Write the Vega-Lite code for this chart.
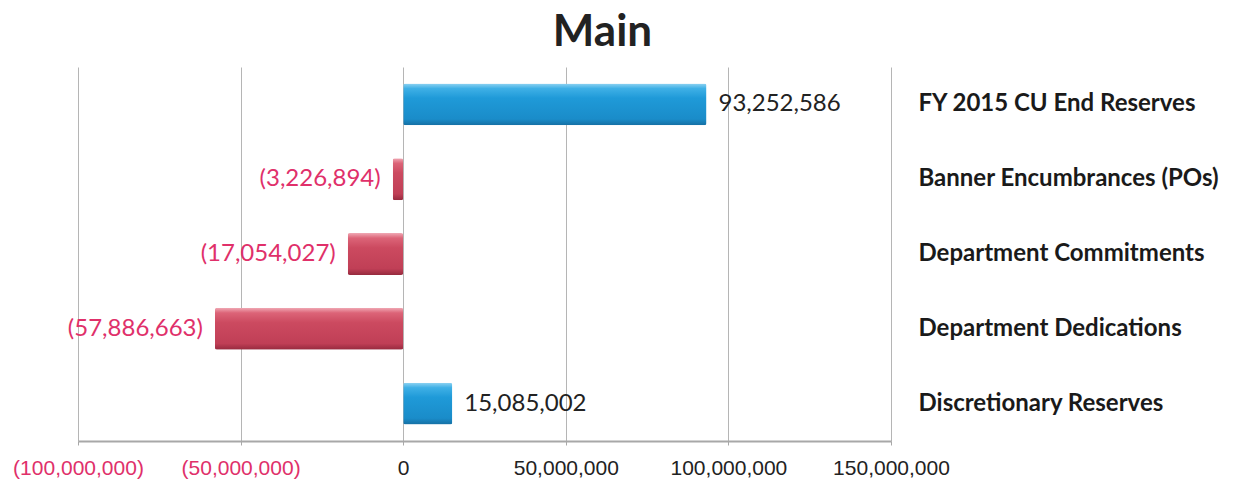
{
  "$schema": "https://vega.github.io/schema/vega-lite/v6.json",
  "autosize": "none",
  "width": 813,
  "height": 374,
  "padding": {"left": 78, "top": 67, "right": 352, "bottom": 38},
  "background": "white",
  "config": {"view": {"stroke": null}},
  "title": {
    "text": "Main",
    "font": "Lato",
    "fontSize": 44,
    "fontWeight": "bold",
    "color": "#222222",
    "anchor": "middle",
    "dx": 118,
    "offset": 12
  },
  "data": {
    "values": [
      {"category": "FY 2015 CU End Reserves", "value": 93252586},
      {"category": "Banner Encumbrances (POs)", "value": -3226894},
      {"category": "Department Commitments", "value": -17054027},
      {"category": "Department Dedications", "value": -57886663},
      {"category": "Discretionary Reserves", "value": 15085002}
    ]
  },
  "encoding": {
    "y": {
      "field": "category",
      "type": "nominal",
      "sort": null,
      "scale": {
        "domain": ["FY 2015 CU End Reserves", "Banner Encumbrances (POs)", "Department Commitments", "Department Dedications", "Discretionary Reserves"],
        "paddingInner": 0.44,
        "paddingOuter": 0.22
      },
      "axis": {
        "orient": "right",
        "title": null,
        "domain": false,
        "ticks": false,
        "grid": false,
        "labelPadding": 27,
        "labelAlign": "left",
        "labelFont": "Lato",
        "labelFontWeight": "bold",
        "labelFontSize": 24,
        "labelColor": "#1a1a1a",
        "labelLimit": 400
      }
    },
    "x": {
      "field": "value",
      "type": "quantitative",
      "scale": {"domain": [-100000000, 150000000], "nice": false, "zero": false},
      "axis": {
        "title": null,
        "values": [-100000000, -50000000, 0, 50000000, 100000000, 150000000],
        "labelExpr": "datum.value < 0 ? '(' + format(-datum.value, ',') + ')' : format(datum.value, ',')",
        "labelColor": {"condition": {"test": "datum.value < 0", "value": "#e0306a"}, "value": "#222222"},
        "labelFont": "Liberation Sans",
        "labelFontSize": 21,
        "labelPadding": 12,
        "labelFlush": false,
        "labelOverlap": false,
        "grid": true,
        "gridColor": "#b5b5b5",
        "gridWidth": 1,
        "domainColor": "#a8a8a8",
        "domainWidth": 2,
        "ticks": true,
        "tickColor": "#a8a8a8",
        "tickSize": 4
      }
    }
  },
  "layer": [
    {
      "transform": [{"filter": "datum.value >= 0"}],
      "mark": {
        "type": "bar",
        "cornerRadius": 2,
        "color": {
          "gradient": "linear", "x1": 0, "y1": 0, "x2": 0, "y2": 1,
          "stops": [
            {"offset": 0, "color": "#8fd3f2"},
            {"offset": 0.12, "color": "#3fb0e6"},
            {"offset": 0.35, "color": "#1f9ad8"},
            {"offset": 0.85, "color": "#1a8cc9"},
            {"offset": 1, "color": "#156fa3"}
          ]
        }
      }
    },
    {
      "transform": [{"filter": "datum.value < 0"}],
      "mark": {
        "type": "bar",
        "cornerRadius": 2,
        "color": {
          "gradient": "linear", "x1": 0, "y1": 0, "x2": 0, "y2": 1,
          "stops": [
            {"offset": 0, "color": "#f0a8b4"},
            {"offset": 0.12, "color": "#dc6478"},
            {"offset": 0.35, "color": "#cc4a60"},
            {"offset": 0.85, "color": "#c03f56"},
            {"offset": 1, "color": "#962a3e"}
          ]
        }
      }
    },
    {
      "transform": [{"filter": "datum.value >= 0"}],
      "mark": {"type": "text", "align": "left", "baseline": "middle", "dx": 12, "font": "Lato", "fontSize": 24, "color": "#222222"},
      "encoding": {"text": {"field": "value", "type": "quantitative", "format": ","}}
    },
    {
      "transform": [{"filter": "datum.value < 0"}],
      "mark": {"type": "text", "align": "right", "baseline": "middle", "dx": -12, "font": "Lato", "fontSize": 24, "color": "#e0306a"},
      "encoding": {"text": {"field": "value", "type": "quantitative", "format": "(,"}}
    }
  ]
}
